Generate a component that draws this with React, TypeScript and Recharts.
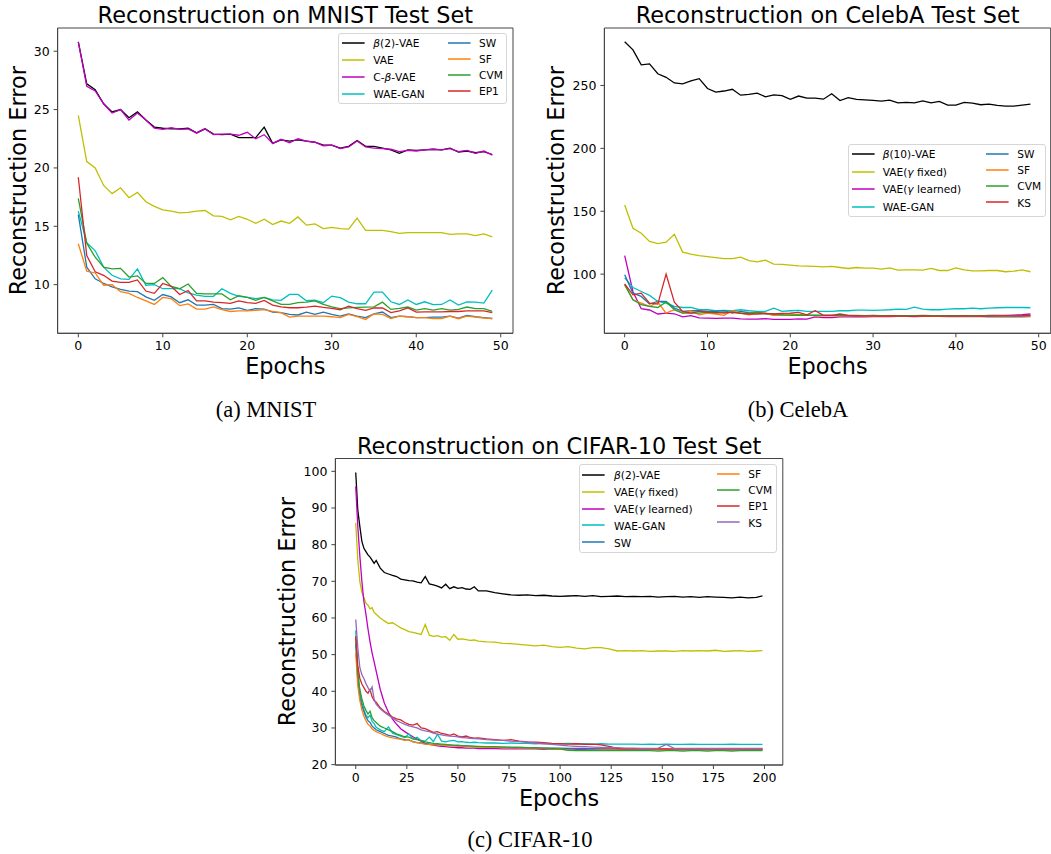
import React from "react"
import { LineChart, Line, XAxis, YAxis, ReferenceArea } from "recharts"

const FONT = '"DejaVu Sans", Verdana, sans-serif'
const SERIF = '"Liberation Serif", "Times New Roman", serif'

// ---------- MNIST (epochs 0..49) ----------
const mnistEpochs = Array.from({ length: 50 }, (_, i) => i)

const mnistBeta = [
  30.8, 27.2, 26.7, 25.5, 24.8, 25.0, 24.3, 24.8, 24.1, 23.5,
  23.4, 23.35, 23.35, 23.4, 23.0, 23.35, 22.9, 22.85, 22.9, 22.6,
  22.6, 22.6, 23.5, 22.1, 22.4, 22.3, 22.4, 22.3, 22.2, 21.95,
  21.95, 21.7, 21.85, 22.35, 21.85, 21.85, 21.7, 21.55, 21.25, 21.55,
  21.5, 21.55, 21.6, 21.55, 21.7, 21.35, 21.45, 21.3, 21.4, 21.15,
]
const mnistVae = [
  24.5, 20.55, 20.0, 18.5, 17.8, 18.3, 17.45, 17.9, 17.1, 16.7,
  16.4, 16.3, 16.15, 16.2, 16.3, 16.35, 15.9, 15.85, 15.55, 15.85,
  15.6, 15.25, 15.6, 15.15, 15.45, 15.25, 15.8, 15.1, 15.2, 14.8,
  14.9, 14.8, 14.75, 15.7, 14.65, 14.65, 14.65, 14.55, 14.4, 14.45,
  14.45, 14.45, 14.45, 14.45, 14.3, 14.35, 14.35, 14.2, 14.35, 14.1,
]
const mnistCBeta = [
  30.8, 27.0, 26.6, 25.5, 24.7, 25.0, 24.1, 24.7, 24.1, 23.4,
  23.3, 23.45, 23.3, 23.35, 23.0, 23.35, 22.85, 22.9, 22.9, 22.8,
  23.05, 22.5, 22.85, 22.1, 22.45, 22.15, 22.5, 22.3, 22.2, 21.9,
  21.95, 21.65, 21.8, 22.3, 21.8, 21.7, 21.65, 21.6, 21.4, 21.5,
  21.45, 21.55, 21.6, 21.55, 21.65, 21.4, 21.5, 21.25, 21.45, 21.1,
]
const mnistWae = [
  16.3, 13.6, 12.9, 11.5, 10.8, 10.5, 10.45, 11.35, 9.95, 10.0,
  9.65, 9.65, 9.65, 9.3, 9.1, 9.0, 9.0, 9.65, 9.25, 9.0,
  8.9, 8.8, 8.9, 8.7, 8.65, 9.16, 9.16, 8.62, 8.68, 8.45,
  9.02, 8.88, 8.5, 8.36, 8.36, 9.36, 9.36, 8.53, 8.3, 8.68,
  8.3, 8.53, 8.28, 8.3, 8.68, 8.25, 8.53, 8.5, 8.42, 9.53,
]
const mnistSw = [
  16.0, 11.5, 10.5, 10.1, 9.8, 9.6, 9.45, 9.4, 8.95, 8.65,
  9.15, 8.95, 8.45, 8.7, 8.25, 8.25, 8.3, 7.95, 7.9, 8.0,
  7.8, 7.95, 7.9, 7.65, 7.6, 7.45, 7.4, 7.65, 7.45, 7.65,
  7.45, 7.3, 7.5, 7.3, 7.17, 7.5, 7.65, 7.17, 7.3, 7.25,
  7.17, 7.17, 7.22, 7.22, 7.3, 7.14, 7.36, 7.25, 7.17, 7.1,
]
const mnistSf = [
  13.5, 11.15, 11.0, 9.95, 10.0, 9.4, 9.25, 8.9, 8.6, 8.3,
  8.9, 8.8, 8.2, 8.35, 7.9, 7.9, 8.1, 7.85, 7.7, 7.75,
  7.75, 7.8, 7.85, 7.7, 7.6, 7.22, 7.3, 7.3, 7.3, 7.3,
  7.25, 7.17, 7.45, 7.25, 7.02, 7.5, 7.45, 7.1, 7.3, 7.25,
  7.17, 7.17, 7.08, 7.1, 7.3, 7.08, 7.3, 7.22, 7.14, 7.08,
]
const mnistCvm = [
  17.4, 13.55, 12.35, 11.5, 11.35, 11.4, 10.65, 10.75, 10.1, 10.1,
  10.6, 9.85, 9.65, 10.05, 9.25, 9.2, 9.2, 9.2, 8.7, 9.05,
  8.9, 8.65, 8.9, 8.6, 8.3, 8.3, 8.45, 8.5, 8.6, 8.3,
  8.1, 7.94, 8.0, 8.05, 8.08, 8.1, 8.5, 7.88, 7.96, 8.08,
  7.82, 7.94, 7.82, 7.94, 7.82, 7.88, 8.08, 7.94, 7.94, 7.7,
]
const mnistEp1 = [
  19.2, 12.5, 11.1, 10.8, 10.3, 10.2, 10.2, 10.4, 9.45, 9.25,
  10.1, 9.85, 9.15, 9.5, 8.6, 8.6, 8.5, 8.45, 8.4, 8.6,
  8.45, 8.4, 8.65, 8.25, 8.1, 8.02, 8.02, 8.08, 8.16, 8.05,
  7.96, 7.85, 8.15, 7.95, 7.8, 8.0, 8.0, 7.6, 7.75, 8.0,
  7.65, 7.67, 7.67, 7.67, 7.7, 7.7, 7.75, 7.75, 7.75, 7.6,
]

// ---------- CelebA (epochs 0..49) ----------
const celebEpochs = Array.from({ length: 50 }, (_, i) => i)

const celebBeta = [
  284.7, 278.3, 266.4, 267.2, 259.3, 256.5, 252.0, 251.3, 253.7, 255.4,
  247.6, 244.8, 245.6, 247.0, 242.3, 243.0, 243.9, 241.0, 242.6, 242.0,
  239.0, 241.6, 240.0, 240.0, 239.1, 243.4, 238.0, 240.3, 238.9, 238.5,
  238.1, 237.6, 238.4, 236.2, 236.5, 236.2, 237.8, 236.2, 237.3, 234.4,
  234.4, 236.5, 236.0, 234.7, 235.2, 234.1, 233.6, 233.6, 234.4, 235.2,
]
const celebVaeFixed = [
  155.0, 136.5, 132.5, 126.0, 124.3, 125.4, 131.7, 117.5, 115.9, 114.8,
  114.0, 113.2, 112.4, 112.4, 113.5, 110.8, 109.8, 111.1, 108.0, 107.7,
  107.1, 106.6, 106.3, 106.1, 105.8, 106.1, 105.3, 104.5, 105.3, 104.8,
  104.8, 104.0, 105.0, 103.2, 103.4, 103.4, 103.2, 104.5, 102.9, 102.9,
  105.0, 103.4, 102.6, 102.6, 102.9, 102.9, 101.9, 102.4, 103.4, 101.9,
]
const celebVaeLearned = [
  114.8, 86.0, 72.5, 71.5, 68.3, 69.0, 68.5, 66.0, 67.0, 65.2,
  65.0, 64.8, 65.0, 65.0, 64.5, 64.3, 64.3, 64.6, 64.0, 64.0,
  64.0, 64.5, 64.3, 66.0, 65.5, 65.5, 66.0, 66.0, 66.2, 66.0,
  66.3, 66.2, 66.3, 66.4, 66.5, 66.3, 66.5, 66.6, 66.5, 66.7,
  66.8, 67.0, 67.0, 66.9, 67.2, 67.3, 67.3, 67.5, 67.8, 68.3,
]
const celebWae = [
  97.0, 89.4, 86.2, 83.1, 78.3, 77.0, 74.3, 73.5, 73.5, 71.7,
  71.7, 70.9, 71.2, 70.9, 71.7, 70.9, 70.4, 70.4, 73.0, 70.4,
  70.9, 71.2, 70.4, 70.4, 70.4, 70.4, 70.9, 70.9, 71.4, 71.4,
  71.2, 71.4, 71.7, 72.2, 72.0, 73.8, 72.2, 71.7, 71.7, 72.2,
  72.5, 72.5, 73.0, 72.5, 73.0, 73.3, 73.5, 73.5, 73.5, 73.3,
]
const celebSw = [
  99.5, 84.9, 82.3, 76.2, 78.3, 78.3, 73.0, 70.4, 70.9, 70.9,
  70.4, 70.4, 70.9, 69.0, 70.4, 69.3, 68.8, 68.5, 67.7, 67.7,
  68.3, 67.7, 67.2, 67.2, 67.2, 67.2, 67.0, 67.2, 67.0, 66.8,
  66.7, 66.7, 66.6, 66.7, 66.5, 66.6, 66.5, 66.4, 66.5, 66.3,
  66.4, 66.2, 66.3, 66.2, 66.1, 66.2, 66.0, 66.1, 66.0, 66.2,
]
const celebSf = [
  92.0, 79.6, 77.0, 74.3, 77.8, 69.0, 71.7, 69.0, 70.9, 67.7,
  69.0, 68.3, 67.2, 70.9, 69.0, 67.7, 69.0, 69.0, 67.2, 67.7,
  67.7, 67.7, 67.7, 66.9, 66.9, 66.9, 66.8, 66.9, 66.8, 66.7,
  66.8, 66.7, 66.8, 66.6, 66.7, 66.6, 66.7, 66.6, 66.5, 66.6,
  66.6, 66.5, 66.6, 66.5, 66.6, 66.5, 66.5, 66.6, 66.5, 66.6,
]
const celebCvm = [
  91.5, 79.6, 75.7, 74.3, 73.5, 77.8, 71.7, 69.0, 69.0, 69.0,
  69.8, 69.0, 69.8, 69.6, 69.0, 69.0, 69.8, 68.8, 68.3, 67.7,
  67.2, 67.5, 67.2, 67.4, 67.2, 67.3, 67.2, 67.1, 67.2, 67.0,
  67.3, 67.0, 67.1, 67.0, 67.1, 67.0, 67.2, 67.0, 67.1, 67.0,
  67.1, 67.0, 67.1, 67.0, 67.1, 67.0, 67.1, 67.0, 67.1, 67.2,
]
const celebKs = [
  92.3, 83.6, 84.9, 77.0, 76.2, 100.0, 77.8, 70.4, 69.0, 70.4,
  69.8, 69.6, 69.0, 69.8, 68.8, 68.3, 68.3, 68.8, 68.3, 68.8,
  69.0, 69.6, 67.7, 70.9, 67.2, 67.2, 68.3, 67.2, 66.9, 66.8,
  66.8, 66.7, 66.9, 66.7, 66.6, 66.5, 66.8, 66.7, 66.6, 66.7,
  66.7, 66.8, 66.7, 66.8, 66.7, 66.8, 66.8, 66.9, 66.9, 67.2,
]

// ---------- CIFAR-10 (sampled epochs) ----------
const cifarEpochs = [
  0, 1, 2, 3, 4, 5, 6, 7, 8, 9, 10,
  12, 14, 16, 18, 20, 22, 24, 26, 28, 30, 32, 34, 36, 38, 40, 42, 44, 46, 48, 50, 52, 54, 56, 58, 60,
  64, 68, 72, 76, 80, 84, 88, 92, 96, 100, 104, 108, 112, 116, 120, 124, 128, 132, 136, 140, 144, 148,
  152, 156, 160, 164, 168, 172, 176, 180, 184, 188, 192, 196,
  199,
]
const cifarBeta = [
  99.7, 89.5, 85.0, 80.9, 79.0, 78.1, 77.2, 76.6, 75.8, 74.9, 75.7,
  73.6, 72.4, 72.0, 71.6, 71.3, 70.6, 70.4, 70.2, 70.1, 69.8, 69.6, 71.3, 69.3, 69.0, 68.7, 68.2, 69.2, 68.0, 68.5, 68.1, 68.3, 67.9, 67.8, 68.5, 67.4,
  67.4, 66.9, 66.6, 66.3, 66.2, 66.3, 66.1, 66.2, 66.0, 65.9, 66.0, 66.1, 65.9, 66.1, 65.8, 65.9, 66.0, 65.8, 65.9, 65.8, 65.9, 65.7,
  65.8, 65.9, 65.7, 65.8, 65.6, 65.8, 65.7, 65.6, 65.5, 65.7, 65.5, 65.6,
  66.0,
]
const cifarVaeFixed = [
  85.9, 76.0, 70.0, 67.0, 65.5, 64.0, 63.5, 62.5, 62.8, 61.5, 61.0,
  60.0, 59.2, 58.5, 58.7, 58.0, 57.3, 56.8, 56.3, 56.1, 55.8, 55.5, 58.2, 55.3, 55.0, 55.2, 54.8, 54.9, 53.9, 55.5, 54.2, 54.3, 54.1, 53.9, 54.0, 53.7,
  53.5, 53.4, 53.1, 53.0, 52.8, 52.6, 52.4, 52.6, 52.2, 52.0, 52.2, 51.8, 51.6, 51.9, 51.9, 51.6, 51.0, 51.1, 51.0, 51.1, 50.9, 51.0,
  51.0, 50.9, 51.1, 51.0, 51.1, 51.0, 51.2, 50.9, 51.0, 51.1, 50.9, 51.0,
  51.1,
]
const cifarVaeLearned = [
  95.9, 85.0, 77.0, 70.0, 64.5, 61.0, 57.0, 53.5, 50.5, 48.0, 45.5,
  40.5, 36.8, 34.3, 32.4, 31.0, 29.8, 29.0, 28.3, 27.6, 27.0, 26.4, 25.8, 25.5, 25.3, 25.1, 25.0, 24.9, 24.8, 24.7, 24.6, 24.6, 24.5, 24.5, 24.5, 24.4,
  24.4, 24.4, 24.3, 24.3, 24.4, 24.3, 24.3, 24.2, 24.3, 24.2, 24.3, 24.2, 24.2, 24.3, 24.2, 24.2, 24.2, 24.2, 24.1, 24.2, 24.2, 24.1,
  24.2, 24.1, 24.2, 24.1, 24.1, 24.2, 24.1, 24.1, 24.1, 24.2, 24.1, 24.1,
  24.2,
]
const cifarWae = [
  56.6, 45.0, 40.0, 37.0, 35.0, 33.5, 32.8, 33.5, 31.8, 31.2, 30.2,
  29.5, 29.0, 30.3, 28.6, 28.2, 27.8, 27.4, 28.4, 27.0, 27.5, 26.6, 26.4, 27.5, 26.3, 28.3, 26.4, 26.2, 26.5, 26.6, 26.2, 26.3, 26.1, 26.0, 26.1, 26.0,
  25.9, 25.9, 25.8, 25.9, 25.8, 25.8, 25.7, 25.8, 25.7, 25.7, 25.8, 25.7, 25.7, 25.6, 25.7, 25.6, 25.6, 25.6, 25.6, 25.5, 25.6, 25.5,
  25.6, 25.5, 25.5, 25.6, 25.5, 25.5, 25.5, 25.5, 25.6, 25.5, 25.5, 25.5,
  25.5,
]
const cifarSw = [
  53.0, 43.0, 38.5, 36.0, 34.5, 33.0, 32.0, 31.5, 30.5, 30.0, 29.5,
  29.0, 28.5, 28.0, 27.8, 27.5, 27.0, 26.8, 26.7, 26.3, 26.0, 25.9, 25.7, 25.6, 25.5, 25.5, 25.4, 25.3, 25.3, 25.2, 25.2, 25.1, 25.1, 25.0, 25.0, 24.9,
  24.9, 24.8, 24.8, 24.7, 24.7, 24.6, 24.6, 24.5, 24.5, 24.5, 24.4, 24.4, 24.4, 24.3, 24.3, 24.3, 24.3, 24.2, 24.2, 24.2, 24.2, 24.2,
  24.1, 24.1, 24.1, 24.1, 24.1, 24.1, 24.0, 24.0, 24.0, 24.0, 24.0, 24.0,
  24.0,
]
const cifarSf = [
  50.5, 41.5, 37.5, 35.0, 33.2, 32.0, 31.0, 30.5, 29.8, 29.3, 29.0,
  28.5, 28.0, 27.6, 27.3, 27.1, 26.9, 26.6, 26.8, 26.2, 26.0, 25.8, 25.6, 25.5, 25.4, 25.4, 25.3, 25.2, 25.1, 25.1, 25.0, 25.0, 24.9, 24.9, 24.8, 24.8,
  24.7, 24.7, 24.6, 24.6, 24.5, 24.5, 24.4, 24.4, 24.3, 24.2, 24.0, 23.9, 23.9, 23.9, 24.0, 24.0, 24.0, 24.0, 24.0, 24.0, 24.0, 24.0,
  24.0, 24.0, 24.0, 24.0, 24.0, 24.0, 24.0, 24.0, 24.0, 24.0, 24.0, 24.0,
  24.0,
]
const cifarCvm = [
  55.0, 45.0, 40.5, 38.0, 36.0, 34.8, 33.8, 34.6, 32.8, 32.0, 31.5,
  30.5, 30.0, 29.5, 29.0, 28.4, 28.0, 27.6, 27.5, 27.0, 26.8, 26.5, 26.2, 26.0, 25.8, 25.7, 25.6, 25.5, 25.4, 25.3, 25.3, 25.2, 25.1, 25.1, 25.0, 25.0,
  24.9, 24.9, 24.8, 24.7, 24.7, 24.6, 24.5, 24.5, 24.4, 24.3, 23.9, 23.8, 23.8, 23.8, 23.8, 23.8, 23.8, 23.8, 23.8, 23.8, 23.8, 23.7,
  23.8, 23.8, 23.7, 23.8, 23.8, 23.7, 23.8, 23.8, 23.7, 23.8, 23.8, 23.8,
  23.8,
]
const cifarEp1 = [
  55.0, 47.0, 43.5, 42.0, 41.0, 40.0, 39.5, 40.5, 38.5, 37.5, 37.0,
  35.5, 34.5, 33.8, 33.0, 32.5, 32.2, 31.5, 31.0, 30.8, 31.2, 30.0, 29.8, 29.3, 28.8, 29.0, 28.5, 28.3, 28.0, 28.4, 27.8, 27.6, 27.8, 27.4, 27.2, 27.3,
  27.0, 26.8, 26.6, 26.8, 26.4, 26.2, 26.1, 26.0, 25.8, 25.7, 25.6, 25.7, 25.5, 25.6, 25.4, 25.0, 24.4, 24.3, 24.3, 24.3, 24.3, 24.3,
  24.3, 24.3, 24.3, 24.3, 24.3, 24.3, 24.3, 24.3, 24.3, 24.3, 24.3, 24.3,
  24.3,
]
const cifarKs = [
  59.6, 52.0, 46.5, 44.5, 43.5, 42.1, 41.0, 40.0, 41.2, 37.8, 36.5,
  35.2, 34.3, 33.5, 32.7, 32.0, 31.5, 31.0, 30.6, 30.3, 30.0, 29.5, 29.2, 29.0, 28.6, 28.3, 28.1, 27.9, 27.8, 27.7, 27.6, 27.4, 27.3, 27.2, 27.1, 27.0,
  26.8, 26.7, 26.6, 26.4, 26.3, 26.1, 25.9, 25.7, 25.5, 25.3, 25.1, 25.0, 24.9, 24.8, 24.7, 24.6, 24.6, 24.5, 24.5, 24.4, 24.4, 24.5,
  25.5, 24.4, 24.4, 24.4, 24.4, 24.4, 24.4, 24.4, 24.4, 24.4, 24.4, 24.4,
  24.4,
]

type Series = { name: string; color: string; values: number[] }

const C = {
  k: "#000000",
  y: "#bfbf00",
  m: "#bf00bf",
  c: "#00bfbf",
  blue: "#1f77b4",
  orange: "#ff7f0e",
  green: "#2ca02c",
  red: "#d62728",
  purple: "#9467bd",
}

const mnistSeries: Series[] = [
  { name: "β(2)-VAE", color: C.k, values: mnistBeta },
  { name: "VAE", color: C.y, values: mnistVae },
  { name: "C-β-VAE", color: C.m, values: mnistCBeta },
  { name: "WAE-GAN", color: C.c, values: mnistWae },
  { name: "SW", color: C.blue, values: mnistSw },
  { name: "SF", color: C.orange, values: mnistSf },
  { name: "CVM", color: C.green, values: mnistCvm },
  { name: "EP1", color: C.red, values: mnistEp1 },
]
const celebSeries: Series[] = [
  { name: "β(10)-VAE", color: C.k, values: celebBeta },
  { name: "VAE(γ fixed)", color: C.y, values: celebVaeFixed },
  { name: "VAE(γ learned)", color: C.m, values: celebVaeLearned },
  { name: "WAE-GAN", color: C.c, values: celebWae },
  { name: "SW", color: C.blue, values: celebSw },
  { name: "SF", color: C.orange, values: celebSf },
  { name: "CVM", color: C.green, values: celebCvm },
  { name: "KS", color: C.red, values: celebKs },
]
const cifarSeries: Series[] = [
  { name: "β(2)-VAE", color: C.k, values: cifarBeta },
  { name: "VAE(γ fixed)", color: C.y, values: cifarVaeFixed },
  { name: "VAE(γ learned)", color: C.m, values: cifarVaeLearned },
  { name: "WAE-GAN", color: C.c, values: cifarWae },
  { name: "SW", color: C.blue, values: cifarSw },
  { name: "SF", color: C.orange, values: cifarSf },
  { name: "CVM", color: C.green, values: cifarCvm },
  { name: "EP1", color: C.red, values: cifarEp1 },
  { name: "KS", color: C.purple, values: cifarKs },
]

const epochTicks50 = [0, 10, 20, 30, 40, 50]
const cifarXTicks = [0, 25, 50, 75, 100, 125, 150, 175, 200]
const mnistYTicks = [10, 15, 20, 25, 30]
const celebYTicks = [100, 150, 200, 250]
const cifarYTicks = [20, 30, 40, 50, 60, 70, 80, 90, 100]

const AXIS = "#444"

type PanelProps = {
  series: Series[]
  epochs: number[]
  xDomain: [number, number]
  yDomain: [number, number]
  xTicks: number[]
  yTicks: number[]
  left: number
  top: number
  width: number
  height: number
  margin: { top: number; right: number; bottom: number; left: number }
  yAxisWidth: number
}

function Panel(p: PanelProps) {
  const rows = p.epochs.map((e, i) => {
    const r: Record<string, number> = { epoch: e }
    p.series.forEach((s, j) => (r["s" + j] = s.values[i]))
    return r
  })
  const tick = { fill: "#000", fontSize: 12.5, fontFamily: FONT }
  return (
    <div style={{ position: "absolute", left: p.left, top: p.top }}>
      <LineChart width={p.width} height={p.height} data={rows} margin={p.margin}>
        <XAxis
          dataKey="epoch"
          type="number"
          domain={p.xDomain}
          ticks={p.xTicks}
          allowDataOverflow
          height={30}
          tick={tick}
          tickSize={4}
          tickMargin={4}
          stroke={AXIS}
        />
        <YAxis
          type="number"
          domain={p.yDomain}
          ticks={p.yTicks}
          allowDataOverflow
          width={p.yAxisWidth}
          tick={tick}
          tickSize={4}
          tickMargin={4}
          stroke={AXIS}
        />
        <ReferenceArea
          x1={p.xDomain[0]}
          x2={p.xDomain[1]}
          y1={p.yDomain[0]}
          y2={p.yDomain[1]}
          fill="none"
          stroke={AXIS}
          strokeWidth={1}
        />
        {p.series.map((s, j) => (
          <Line
            key={s.name}
            dataKey={"s" + j}
            type="linear"
            stroke={s.color}
            strokeWidth={1.3}
            dot={false}
            isAnimationActive={false}
          />
        ))}
      </LineChart>
    </div>
  )
}

function Label({ text }: { text: string }) {
  const parts = text.split(/([βγ])/)
  return (
    <>
      {parts.map((t, i) =>
        t === "β" || t === "γ" ? (
          <span key={i} style={{ fontStyle: "italic" }}>
            {t}
          </span>
        ) : (
          <span key={i}>{t}</span>
        )
      )}
    </>
  )
}

type Col = { items: Series[]; handleX: number; textX: number; y0: number; dy: number }

function LegendBox({ left, top, width, height, cols }: { left: number; top: number; width: number; height: number; cols: Col[] }) {
  return (
    <div
      style={{
        position: "absolute",
        left,
        top,
        width,
        height,
        boxSizing: "border-box",
        border: "1px solid #d6d6d6",
        borderRadius: 3,
        background: "rgba(255,255,255,0.85)",
        fontFamily: FONT,
        fontSize: 10.6,
        color: "#000",
      }}
    >
      {cols.map((c, ci) =>
        c.items.map((s, i) => {
          const cy = c.y0 + i * c.dy
          return (
            <React.Fragment key={ci + "-" + i}>
              <svg
                width={24}
                height={6}
                style={{ position: "absolute", left: c.handleX - 1, top: Math.round(cy) - 4, overflow: "visible" }}
              >
                <line x1={0} x2={22.6} y1={3} y2={3} stroke={s.color} strokeWidth={1.5} />
              </svg>
              <div
                style={{
                  position: "absolute",
                  left: c.textX - 1,
                  top: cy - 8 - 1,
                  height: 16,
                  lineHeight: "16px",
                  whiteSpace: "nowrap",
                }}
              >
                <Label text={s.name} />
              </div>
            </React.Fragment>
          )
        })
      )}
    </div>
  )
}

export default function App() {
  return (
    <div style={{ position: "absolute", left: 0, top: 0, width: 1051, height: 854, background: "#fff", overflow: "hidden" }}>
      <Panel
        series={mnistSeries}
        epochs={mnistEpochs}
        xDomain={[-2.45, 51.45]}
        yDomain={[5.83, 31.99]}
        xTicks={epochTicks50}
        yTicks={mnistYTicks}
        left={0}
        top={0}
        width={530}
        height={370}
        margin={{ top: 28, right: 17, bottom: 6.7, left: 0 }}
        yAxisWidth={57.6}
      />
      <Panel
        series={celebSeries}
        epochs={celebEpochs}
        xDomain={[-2.45, 51.45]}
        yDomain={[52.97, 295.7]}
        xTicks={epochTicks50}
        yTicks={celebYTicks}
        left={540}
        top={0}
        width={511}
        height={370}
        margin={{ top: 28, right: 0.3, bottom: 6.7, left: 0 }}
        yAxisWidth={64.4}
      />
      <Panel
        series={cifarSeries}
        epochs={cifarEpochs}
        xDomain={[-9.95, 208.95]}
        yDomain={[19.9, 103.5]}
        xTicks={cifarXTicks}
        yTicks={cifarYTicks}
        left={260}
        top={430}
        width={540}
        height={380}
        margin={{ top: 28.5, right: 17.2, bottom: 15, left: 0 }}
        yAxisWidth={75.4}
      />

      <LegendBox
        left={338.2}
        top={33.3}
        width={169.2}
        height={70.7}
        cols={[
          { items: mnistSeries.slice(0, 4), handleX: 4, textX: 35.1, y0: 10, dy: 17 },
          { items: mnistSeries.slice(4), handleX: 109.4, textX: 140.8, y0: 9.7, dy: 16.1 },
        ]}
      />
      <LegendBox
        left={847.7}
        top={144.3}
        width={198.3}
        height={72.7}
        cols={[
          { items: celebSeries.slice(0, 4), handleX: 4, textX: 35, y0: 10, dy: 17.6 },
          { items: celebSeries.slice(4), handleX: 138, textX: 169.6, y0: 10, dy: 16.1 },
        ]}
      />
      <LegendBox
        left={578.5}
        top={464.3}
        width={198.5}
        height={89}
        cols={[
          { items: cifarSeries.slice(0, 5), handleX: 3.8, textX: 35.5, y0: 10.7, dy: 16.9 },
          { items: cifarSeries.slice(5), handleX: 138.2, textX: 169.8, y0: 9.7, dy: 16.2 },
        ]}
      />

      <svg width={1051} height={854} style={{ position: "absolute", left: 0, top: 0, pointerEvents: "none" }}>
        <g fontFamily={FONT} fontSize={22.4} fill="#000" textAnchor="middle">
          <text x={285.3} y={23}>Reconstruction on MNIST Test Set</text>
          <text transform="translate(26,180.7) rotate(-90)">Reconstruction Error</text>
          <text x={285.3} y={374}>Epochs</text>

          <text x={827.6} y={23}>Reconstruction on CelebA Test Set</text>
          <text transform="translate(564,180.7) rotate(-90)">Reconstruction Error</text>
          <text x={827.6} y={374}>Epochs</text>

          <text x={559.1} y={454.3}>Reconstruction on CIFAR-10 Test Set</text>
          <text transform="translate(295,611.7) rotate(-90)">Reconstruction Error</text>
          <text x={559.1} y={806}>Epochs</text>
        </g>
        <g fontFamily={SERIF} fontSize={22.5} fill="#000" textAnchor="middle">
          <text x={266} y={417}>(a) MNIST</text>
          <text x={798} y={417}>(b) CelebA</text>
          <text x={530} y={847}>(c) CIFAR-10</text>
        </g>
      </svg>
    </div>
  )
}
